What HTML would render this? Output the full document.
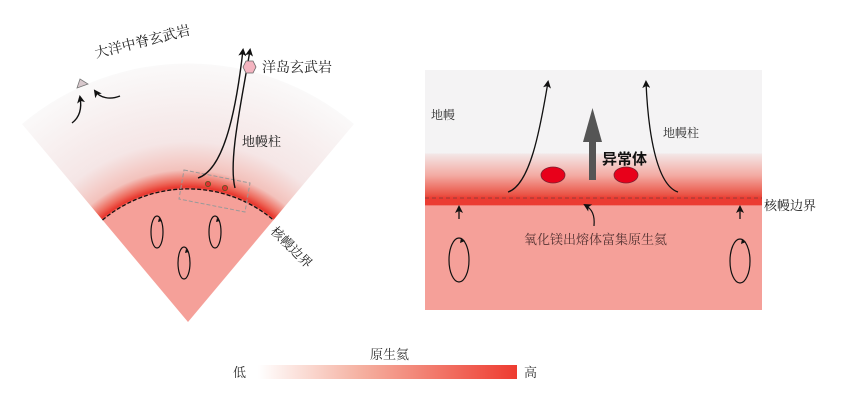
<!DOCTYPE html>
<html><head><meta charset="utf-8"><style>
body{margin:0;background:#fff;}
svg{display:block;font-family:"Liberation Serif","Noto Serif CJK SC",serif;}
</style></head><body>
<svg width="841" height="404" viewBox="0 0 841 404" xmlns="http://www.w3.org/2000/svg">
<defs>
<radialGradient id="fan" gradientUnits="userSpaceOnUse" cx="188" cy="322" r="258">
<stop offset="0" stop-color="#f5a099"/>
<stop offset="0.512" stop-color="#f5a099"/>
<stop offset="0.522" stop-color="#e8352c"/>
<stop offset="0.545" stop-color="#ee6a5c"/>
<stop offset="0.59" stop-color="#f3c2bc"/>
<stop offset="0.7" stop-color="#f5e6e6"/>
<stop offset="1" stop-color="#faf9f9"/>
</radialGradient>
<linearGradient id="rp" gradientUnits="userSpaceOnUse" x1="0" y1="70" x2="0" y2="310">
<stop offset="0" stop-color="#f4f3f4"/>
<stop offset="0.346" stop-color="#f4f3f4"/>
<stop offset="0.35" stop-color="#f3e6e6"/>
<stop offset="0.44" stop-color="#f3aaa2"/>
<stop offset="0.52" stop-color="#ea5446"/>
<stop offset="0.533" stop-color="#eb3c32"/>
<stop offset="0.562" stop-color="#eb3c32"/>
<stop offset="0.566" stop-color="#f5a099"/>
<stop offset="1" stop-color="#f5a099"/>
</linearGradient>
<linearGradient id="leg" x1="0" y1="0" x2="1" y2="0">
<stop offset="0" stop-color="#fff"/>
<stop offset="0.4" stop-color="#f5b0a0"/>
<stop offset="1" stop-color="#ee3b30"/>
</linearGradient>
<marker id="ah" markerWidth="8" markerHeight="8" refX="6" refY="4" orient="auto" markerUnits="userSpaceOnUse"><path d="M0,0 L8,4 L0,8 L2,4z" fill="#111"/></marker>
</defs>
<!-- left fan -->
<path d="M188,322 L22,124 A258,258 0 0 1 354,124 Z" fill="url(#fan)"/>
<path d="M102.5,220 A133,133 0 0 1 273.5,220" fill="none" stroke="#111" stroke-width="1.3" stroke-dasharray="4,2"/>
<polygon points="184,170 250,183 245,212 179,199" fill="none" stroke="#999" stroke-width="1" stroke-dasharray="4,2"/>
<path d="M198,178 C222,170 235,120 243,50" fill="none" stroke="#111" stroke-width="1.4" marker-end="url(#ah)"/>
<path d="M235,188 C228,160 242,100 250,50" fill="none" stroke="#111" stroke-width="1.4" marker-end="url(#ah)"/>
<circle cx="208" cy="184" r="2.6" fill="#e03030" stroke="#552" stroke-width="0.8"/>
<circle cx="225" cy="188" r="2.6" fill="#e03030" stroke="#552" stroke-width="0.8"/>
<polygon points="77,88 88,84 80,79" fill="#d8c8cc" stroke="#777" stroke-width="0.8"/>
<polygon points="246,61 253,61 256,67 253,73 246,73 243,67" fill="#f4b4c0" stroke="#666" stroke-width="0.8"/>
<path d="M72,123 C80,117 82,108 80,97" fill="none" stroke="#111" stroke-width="1.4" marker-end="url(#ah)"/>
<path d="M120,96 C110,100 100,98 95,91" fill="none" stroke="#111" stroke-width="1.4" marker-end="url(#ah)"/>
<ellipse cx="157" cy="232" rx="6" ry="16" fill="none" stroke="#111" stroke-width="1.2"/>
<ellipse cx="215" cy="232" rx="6" ry="16" fill="none" stroke="#111" stroke-width="1.2"/>
<ellipse cx="184" cy="263" rx="6" ry="16" fill="none" stroke="#111" stroke-width="1.2"/>
<path d="M159,218 l3,3 l-4,1z M217,218 l3,3 l-4,1z M186,249 l3,3 l-4,1z" fill="#111"/>
<text x="0" y="0" font-size="14" fill="#222" transform="translate(96,58) rotate(-14)">大洋中脊玄武岩</text>
<text x="262" y="72" font-size="14" fill="#222">洋岛玄武岩</text>
<text x="242" y="146" font-size="13" fill="#222">地幔柱</text>
<text x="0" y="0" font-size="13" fill="#222" transform="translate(270,232) rotate(45)">核幔边界</text>
<!-- right panel -->
<rect x="425" y="70" width="337" height="240" fill="url(#rp)"/>
<line x1="425" y1="198" x2="762" y2="198" stroke="#7a3a3a" stroke-width="0.8" stroke-dasharray="4,3"/>
<path d="M508,192 C530,185 540,130 548,82" fill="none" stroke="#111" stroke-width="1.3" marker-end="url(#ah)"/>
<path d="M678,192 C656,185 648,130 646,82" fill="none" stroke="#111" stroke-width="1.3" marker-end="url(#ah)"/>
<rect x="589" y="140" width="7" height="40" fill="#555"/>
<polygon points="592.5,108 602,142 583,142" fill="#555"/>
<ellipse cx="553" cy="175" rx="12" ry="8" fill="#e8001a" stroke="#7a2030" stroke-width="0.8"/>
<ellipse cx="626" cy="175" rx="12" ry="8" fill="#e8001a" stroke="#7a2030" stroke-width="0.8"/>
<text x="602" y="164" font-size="15" font-weight="bold" fill="#111" font-family="Liberation Sans,Noto Sans CJK SC,sans-serif">异常体</text>
<text x="431" y="119" font-size="12" fill="#333">地幔</text>
<text x="663" y="137" font-size="12" fill="#333">地幔柱</text>
<text x="764" y="210" font-size="13" fill="#222">核幔边界</text>
<text x="524" y="244" font-size="13" fill="#553333">氧化镁出熔体富集原生氦</text>
<line x1="459" y1="219" x2="459" y2="207" stroke="#111" stroke-width="1.3" marker-end="url(#ah)"/>
<line x1="740" y1="219" x2="740" y2="207" stroke="#111" stroke-width="1.3" marker-end="url(#ah)"/>
<path d="M594,226 C595,215 592,209 585,205" fill="none" stroke="#111" stroke-width="1.2" marker-end="url(#ah)"/>
<ellipse cx="459" cy="260" rx="10" ry="22" fill="none" stroke="#111" stroke-width="1.2"/>
<ellipse cx="740" cy="261" rx="10" ry="22" fill="none" stroke="#111" stroke-width="1.2"/>
<path d="M461,238 l4,3 l-5,2z M742,239 l4,3 l-5,2z" fill="#111"/>
<!-- legend -->
<text x="370" y="359" font-size="13" fill="#333">原生氦</text>
<rect x="258" y="365" width="259" height="14" fill="url(#leg)"/>
<text x="233" y="377" font-size="13" fill="#333">低</text>
<text x="524" y="377" font-size="13" fill="#333">高</text>
</svg>
</body></html>
